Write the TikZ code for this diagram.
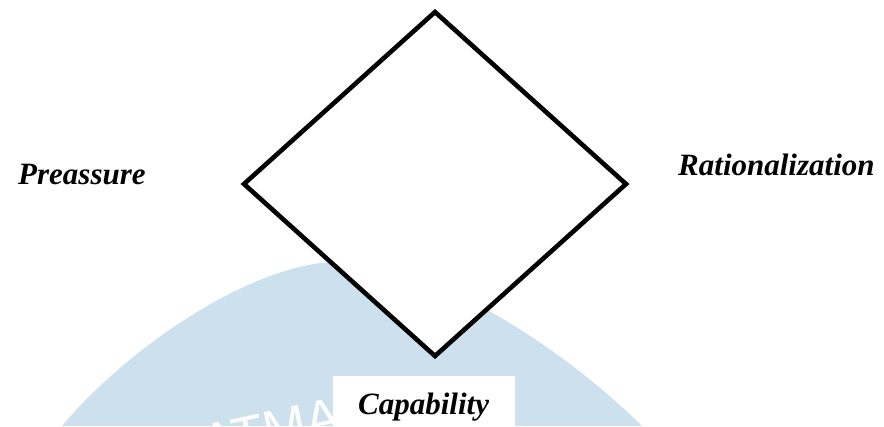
\documentclass[tikz,border=0pt]{standalone}
\usepackage{fontspec}
\setmainfont{Liberation Serif}
\newfontfamily\wmfont{Liberation Sans}
\definecolor{wmblue}{RGB}{204,224,237}
\tikzset{
  lbl/.style={font=\fontsize{31}{36}\selectfont\bfseries\itshape, inner sep=0pt, anchor=base west},
  shapeline/.style={line width=4.6pt, line join=miter, draw=black, fill=white}
}
\begin{document}
\begin{tikzpicture}[x=1pt,y=-1pt]
\useasboundingbox (0,0) rectangle (884,426);
% watermark
\fill[wmblue] (62,426) .. controls (130,345) and (255,262) .. (338,262) .. controls (430,262) and (560,345) .. (642,426) -- cycle;
\node[font=\wmfont\fontsize{52}{56}\selectfont, text=white, anchor=base west, inner sep=0pt, rotate=12] (wm) at (206,462) {ATMA};
% diamond
\coordinate (top) at (435,12);
\coordinate (left) at (244,184);
\coordinate (right) at (626,184);
\coordinate (bottom) at (435,356);
\draw[shapeline] (top) -- (right) -- (bottom) -- (left) -- cycle;
% labels
\node[lbl] (pre) at (18,184) {Preassure};
\node[lbl] (rat) at (678,175) {Rationalization};
\fill[white] (333,376) rectangle (515,430);
\node[lbl] (cap) at (358,414) {Capability};
\end{tikzpicture}
\end{document}
